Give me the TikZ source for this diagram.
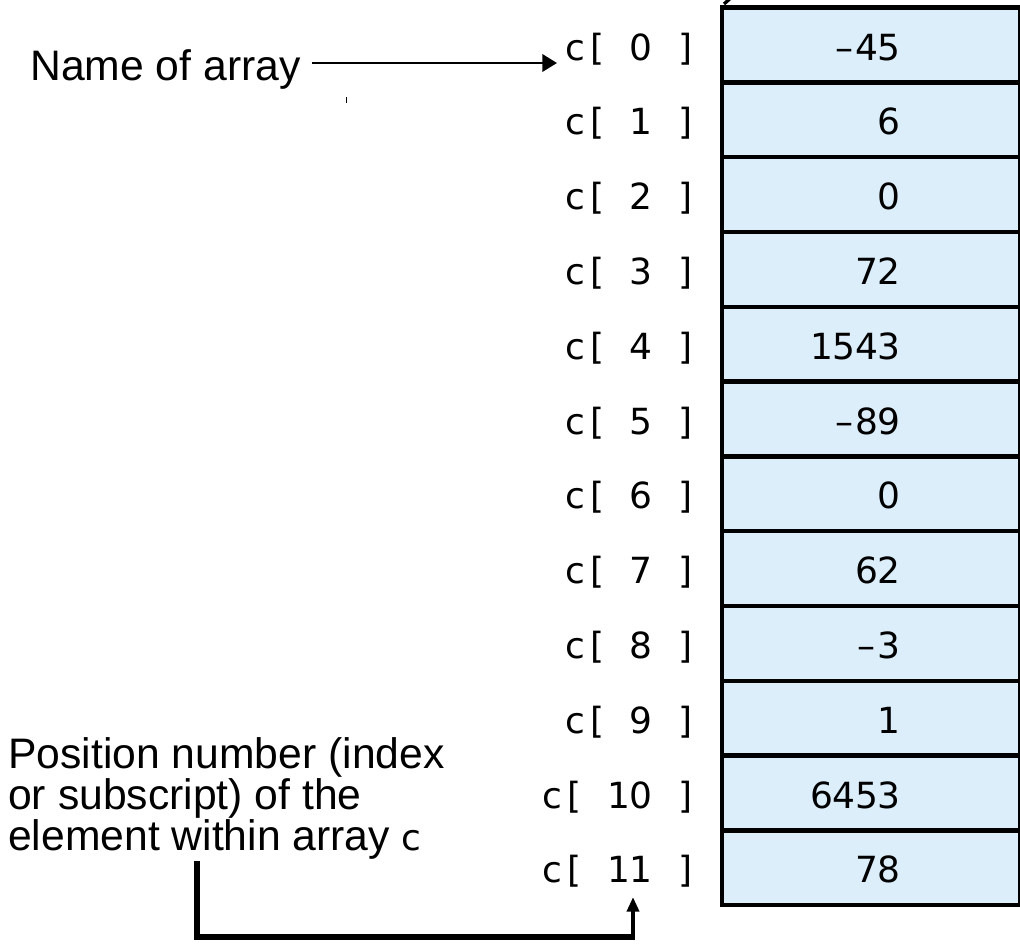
\documentclass[tikz,border=0pt]{standalone}
\usepackage{fontspec}
\setmainfont{Liberation Sans}
\newfontfamily\idxfont{DejaVu Sans}
\usetikzlibrary{arrows.meta}
\definecolor{cellblue}{RGB}{219,238,250}
% fixed-pitch character cells for the subscripts and values
\newcommand\pitchbox[1]{\makebox[16.6pt][c]{#1}}
\def\spaced#1{\ifx#1\relax\else\pitchbox{#1}\expandafter\spaced\fi}
\begin{document}
\begin{tikzpicture}[x=0.75pt,y=-0.75pt,
  txt/.style={inner sep=0pt, font=\fontsize{32pt}{29pt}\selectfont},
  idx/.style={inner sep=0pt, font=\idxfont\fontsize{27pt}{30pt}\selectfont},
  cellbox/.style={draw=black, line width=3.4pt, fill=cellblue,
    minimum width=223.9pt, minimum height=56.1pt, inner sep=0pt, anchor=north west},
  thinarrow/.style={line width=1.9pt, -{Triangle[length=11pt,width=13pt]}},
  bracket/.style={line width=3.9pt, line join=miter},
  idxarrow/.style={line width=3pt, -{Triangle[length=11pt,width=9pt]}}]
\useasboundingbox (0,0) rectangle (1020,943);

% the twelve cells of array c with their subscripts
\foreach \v [count=\i from 0] in {–45,6,0,72,1543,–89,0,62,–3,1,6453,78} {
  \node[cellbox] (cell\i) at (719.5,{5.3+74.8*\i}) {};
  \node[idx, anchor=base east] (v\i) at (900,{60.1+74.8*\i}) {\expandafter\spaced\v\relax};
  \node[idx, anchor=base east] (l\i) at (697,{60.1+74.8*\i})
    {\pitchbox{c}\pitchbox{[}\pitchbox{}\expandafter\spaced\i\relax\pitchbox{}\pitchbox{]}};
}

% stray marks
\draw[line width=2.5pt] (724,4) -- (733,-4);
\draw[line width=0.75pt] (346,97) -- (346,103);

% name of the array
\node[txt, anchor=base west] (name) at (30,80.7) {Name of array};
\coordinate (nameTip) at (557,63);
\draw[thinarrow] ([xshift=8pt]name.east |- nameTip) -- (nameTip);

% position number
\node[txt, align=left, anchor=north west] (pos) at (8,737)
  {Position number (index\\or subscript) of the\\element within array {\idxfont\fontsize{27pt}{30pt}\selectfont c}};
\coordinate (bStart) at (197,861);
\coordinate (bCorner) at (197,937);
\coordinate (bEnd) at (633,937);
\coordinate (idxTip) at (633,897);
\draw[bracket] (bStart) -- (bCorner) -- ([xshift=1.4pt]bEnd);
\draw[idxarrow] (bEnd) -- (idxTip);
\end{tikzpicture}
\end{document}
